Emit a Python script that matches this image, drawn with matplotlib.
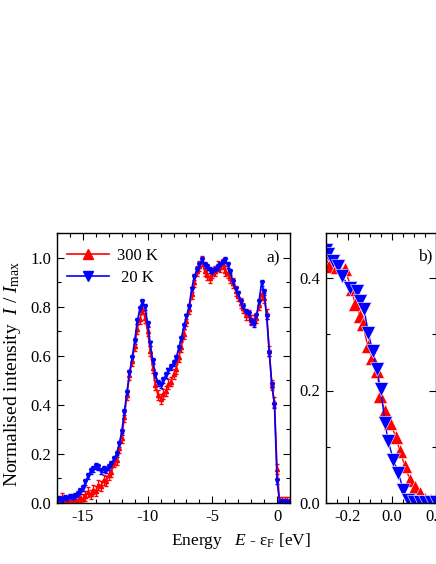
import matplotlib
matplotlib.use("Agg")
import matplotlib.pyplot as plt
import numpy as np
from matplotlib.lines import Line2D
from matplotlib.ticker import MultipleLocator

plt.rcParams["font.family"] = ["Liberation Serif", "DejaVu Serif"]
plt.rcParams["mathtext.fontset"] = "custom"
plt.rcParams["mathtext.rm"] = "Liberation Serif"
plt.rcParams["mathtext.it"] = "Liberation Serif:italic"
plt.rcParams["font.size"] = 11

# --- panel a: full valence band spectra ---
energy = [
    -17.0, -16.8, -16.6, -16.4, -16.2, -16.0, -15.8, -15.6, -15.4, -15.2,
    -15.0, -14.8, -14.6, -14.4, -14.2, -14.0, -13.8, -13.6, -13.4, -13.2,
    -13.0, -12.8, -12.6, -12.4, -12.2, -12.0, -11.8, -11.6, -11.4, -11.2,
    -11.0, -10.8, -10.6, -10.4, -10.2, -10.0, -9.8, -9.6, -9.4, -9.2,
    -9.0, -8.8, -8.6, -8.4, -8.2, -8.0, -7.8, -7.6, -7.4, -7.2,
    -7.0, -6.8, -6.6, -6.4, -6.2, -6.0, -5.8, -5.6, -5.4, -5.2,
    -5.0, -4.8, -4.6, -4.4, -4.2, -4.0, -3.8, -3.6, -3.4, -3.2,
    -3.0, -2.8, -2.6, -2.4, -2.2, -2.0, -1.8, -1.6, -1.4, -1.2,
    -1.0, -0.8, -0.6, -0.4, -0.2, 0.0, 0.2, 0.4, 0.6, 0.8, 1.0,
]
int_300K = [
    0.010, 0.005, 0.020, 0.010, 0.005, 0.010, 0.015, 0.005, 0.010, 0.025,
    0.015, 0.030, 0.045, 0.035, 0.055, 0.050, 0.075, 0.070, 0.095, 0.090,
    0.115, 0.125, 0.165, 0.175, 0.225, 0.265, 0.350, 0.440, 0.520, 0.580,
    0.640, 0.710, 0.750, 0.790, 0.755, 0.700, 0.620, 0.550, 0.480, 0.440,
    0.425, 0.445, 0.455, 0.485, 0.495, 0.525, 0.545, 0.595, 0.635, 0.690,
    0.740, 0.790, 0.850, 0.900, 0.945, 0.965, 0.985, 0.945, 0.930, 0.915,
    0.935, 0.945, 0.965, 0.960, 0.975, 0.945, 0.935, 0.915, 0.895, 0.865,
    0.845, 0.815, 0.795, 0.765, 0.765, 0.745, 0.745, 0.755, 0.805, 0.850,
    0.835, 0.770, 0.620, 0.480, 0.410, 0.140, 0.003, 0.005, 0.005, 0.004, 0.004,
]
int_20K = [
    0.010, 0.015, 0.010, 0.020, 0.015, 0.025, 0.020, 0.030, 0.035, 0.050,
    0.060, 0.085, 0.110, 0.130, 0.140, 0.150, 0.145, 0.130, 0.140, 0.135,
    0.145, 0.160, 0.180, 0.200, 0.240, 0.290, 0.370, 0.450, 0.530, 0.590,
    0.660, 0.740, 0.790, 0.820, 0.800, 0.730, 0.650, 0.580, 0.520, 0.490,
    0.480, 0.500, 0.520, 0.540, 0.555, 0.570, 0.590, 0.630, 0.670, 0.720,
    0.760, 0.800, 0.870, 0.920, 0.950, 0.970, 0.990, 0.970, 0.960, 0.950,
    0.940, 0.950, 0.960, 0.970, 0.980, 0.990, 0.970, 0.940, 0.900, 0.870,
    0.850, 0.820, 0.800, 0.780, 0.770, 0.740, 0.730, 0.760, 0.820, 0.895,
    0.860, 0.760, 0.610, 0.480, 0.400, 0.090, 0.002, 0.003, 0.003, 0.002, 0.003,
]
err_300K = 0.02
err_20K = 0.012

# --- panel b: zoom on the Fermi edge ---
edge_E_300K = [
    -0.300, -0.285, -0.251, -0.214, -0.183, -0.168, -0.145, -0.133, -0.110,
    -0.092, -0.067, -0.055, -0.032, -0.009, 0.018, 0.036, 0.059, 0.082,
    0.105, 0.127, 0.150, 0.175, 0.200,
]
edge_I_300K = [
    0.425, 0.422, 0.419, 0.416, 0.380, 0.354, 0.333, 0.318, 0.279,
    0.258, 0.234, 0.190, 0.163, 0.142, 0.118, 0.092, 0.065, 0.041,
    0.029, 0.017, 0.008, 0.005, 0.003,
]
edge_E_20K = [
    -0.300, -0.289, -0.267, -0.244, -0.229, -0.191, -0.160, -0.145, -0.127,
    -0.108, -0.088, -0.070, -0.051, -0.032, -0.017, 0.006, 0.029, 0.052,
    0.074, 0.100, 0.125, 0.150, 0.175, 0.200,
]
edge_I_20K = [
    0.450, 0.443, 0.431, 0.422, 0.404, 0.383, 0.377, 0.360, 0.345,
    0.303, 0.270, 0.238, 0.202, 0.142, 0.110, 0.077, 0.053, 0.023,
    0.005, 0.002, 0.002, 0.002, 0.002, 0.002,
]

red = "#ff0000"
blue = "#0000ff"

fig = plt.figure(figsize=(4.36, 5.64), dpi=100)
ax_a = fig.add_axes([57 / 436, 1 - 503 / 564, 233 / 436, 270 / 564])
ax_b = fig.add_axes([326 / 436, 1 - 503 / 564, 110 / 436, 270 / 564])

ax_a.errorbar(energy, int_300K, yerr=err_300K, color=red, marker="^",
              markersize=3, lw=1.2, elinewidth=0.9, capsize=1.2)
ax_a.errorbar(energy, int_20K, yerr=err_20K, color=blue, marker="v",
              markersize=3, lw=1.2, elinewidth=0.9, capsize=1.2)

ax_b.plot(edge_E_300K, edge_I_300K, color=red, marker="^", markersize=9.5,
          mec="white", mew=0.4, lw=1.0)
ax_b.plot(edge_E_20K, edge_I_20K, color=blue, marker="v", markersize=9.5,
          mec="white", mew=0.4, lw=1.0)

ax_a.set_xlim(-17, 1)
ax_a.set_ylim(0, 1.1)
ax_a.set_xticks([-15, -10, -5, 0])
ax_a.set_xticklabels(["-15", "-10", "-5", "0"])
ax_a.xaxis.set_minor_locator(MultipleLocator(1))
ax_a.yaxis.set_major_locator(MultipleLocator(0.2))
ax_a.yaxis.set_minor_locator(MultipleLocator(0.1))

ax_b.set_xlim(-0.3, 0.2)
ax_b.set_ylim(0, 0.48)
ax_b.set_xticks([-0.2, 0.0, 0.2])
ax_b.set_xticklabels(["-0.2", "0.0", "0.2"])
ax_b.xaxis.set_minor_locator(MultipleLocator(0.05))
ax_b.yaxis.set_major_locator(MultipleLocator(0.2))
ax_b.yaxis.set_minor_locator(MultipleLocator(0.1))

for ax in (ax_a, ax_b):
    ax.tick_params(which="both", direction="in", top=True, right=True,
                   labelsize=12, width=0.8)
    ax.tick_params(which="major", length=5, pad=4)
    ax.tick_params(which="minor", length=3)
    for sp in ax.spines.values():
        sp.set_linewidth(1.0)

ax_a.text(0.957, 0.907, "a)", transform=ax_a.transAxes, ha="right",
          va="center", fontsize=12.5)
ax_b.text(0.965, 0.915, "b)", transform=ax_b.transAxes, ha="right",
          va="center", fontsize=12.5)

ax_a.set_ylabel(r"Normalised intensity  $I$ / $I_\mathrm{max}$", fontsize=14)
ax_a.yaxis.set_label_coords(-0.145, 0.48)

fig.text(241 / 436, 1 - 541 / 564, r"Energy   $E$ - ε$_\mathrm{F}$ [eV]",
         ha="center", va="center", fontsize=12.5)

handles = [
    Line2D([], [], color=red, marker="^", markersize=7, lw=1.2),
    Line2D([], [], color=blue, marker="v", markersize=7, lw=1.2),
]
ax_a.legend(handles, ["300 K", " 20 K"], loc="upper left",
            bbox_to_anchor=(0.045, 0.945), frameon=False,
            borderaxespad=0, borderpad=0, handlelength=2.5,
            handletextpad=0.5, labelspacing=0.35, fontsize=12)

fig.savefig("out.png", dpi=100)
